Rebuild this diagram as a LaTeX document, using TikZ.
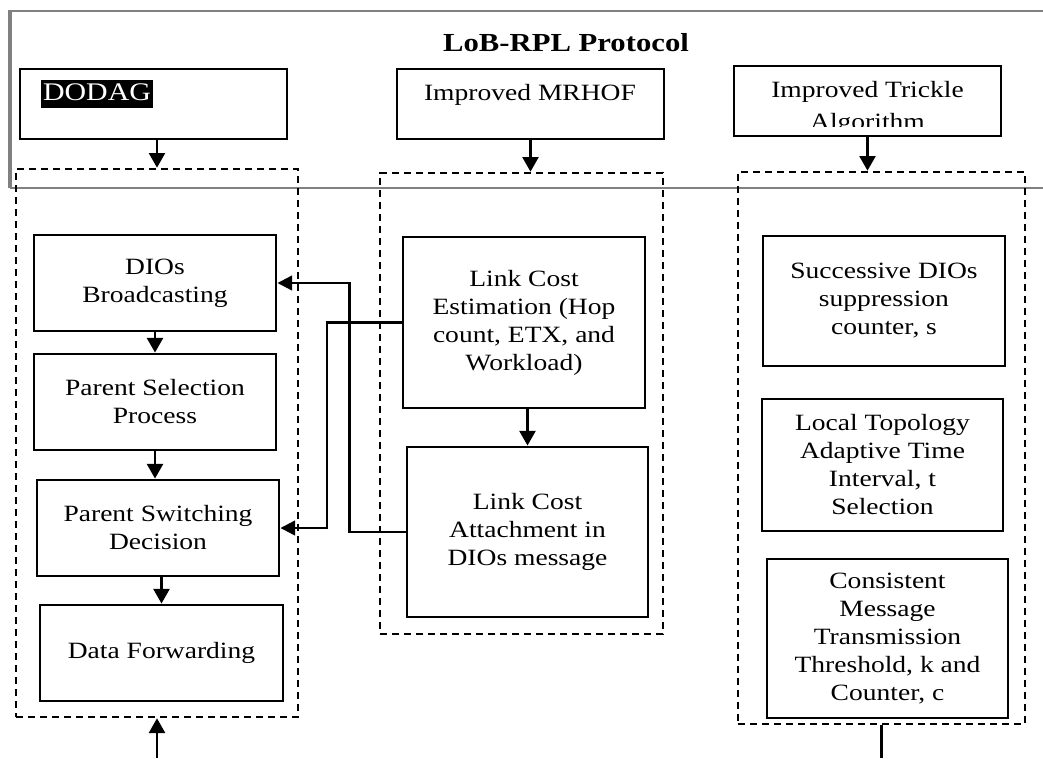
\documentclass[tikz,border=0pt]{standalone}
\usepackage		 {fontspec}
\setmainfont[FakeStretch=1.18]{Liberation Serif}
\usepackage		 {tikz	  }
\usetikzlibrary{shapes,calc,positioning,arrows.meta}

\begin{document}
\begin{tikzpicture}[x=0.75pt,y=-0.75pt]
  \tikzset{ bx/.style={draw,line width=2.2pt,align=center,inner sep=0pt,font=\fontsize{17.5}{21}\selectfont},
    grp/.style={draw,line width=2pt,dash pattern=on 5.5pt off 3.5pt,inner sep=0pt},
    lbl/.style={align=center,inner sep=0pt,font=\fontsize{17.5}{21}\selectfont},
    arr/.style={line width=1.8pt,-{Triangle[width=12pt,length=11pt]}},
    lnk/.style={line width=1.7pt,-{Triangle[width=11pt,length=11pt]}},
  }
  \useasboundingbox (0,0) rectangle (1043,758);
  % frame of the protocol
  \draw[gray,line width=1pt] (9,188) -- (9,11) -- (1050,11);
  \draw[gray,line width=1pt] (11,11) -- (11,188) -- (1050,188);
  \node[lbl,font=\fontsize{19.5}{23}\selectfont\bfseries] (title) at (566,43) {LoB-RPL Protocol};

  \node[bx,minimum width=200.25pt,minimum height=52.5pt] (dodag) at (153.5,104) {};
  \node[bx,minimum width=200.25pt,minimum height=52.5pt] (mrhof) at (530.5,104) {};
  \node[bx,minimum width=200.25pt,minimum height=52.5pt] (trickle) at (867.5,101) {};
  \node[lbl,fill=black,text=white,font=\fontsize{19}{21}\selectfont,text height=15.6pt,text depth=5.2pt,inner xsep=1.5pt] (dodagt) at (97,94) {DODAG};
  \node[lbl,anchor=base] (mrhoft) at (530,100) {Improved MRHOF};
  \begin{scope}
    \clip (734,66) rectangle (1001,126);
    \node[lbl,font=\fontsize{17.5}{24}\selectfont] (tricklet) at (867.5,107.5) {Improved Trickle\\Algorithm};
  \end{scope}

  % dashed groups
  \node[grp,minimum width=211.5pt,minimum height=411pt] (lgrp) at (157,443) {};
  \node[grp,minimum width=212.25pt,minimum height=345.75pt] (mgrp) at (521.5,403.5) {};
  \node[grp,minimum width=215.25pt,minimum height=414pt] (rgrp) at (881.5,448) {};

  \node[bx,minimum width=181.5pt,minimum height=72pt] (dio) at (155,283) {DIOs\\Broadcasting};
  \node[bx,minimum width=181.5pt,minimum height=72pt] (psp) at (155,402) {Parent Selection\\Process};
  \node[bx,minimum width=181.5pt,minimum height=72pt] (psd) at (158,528) {Parent Switching\\Decision};
  \node[bx,minimum width=182.25pt,minimum height=72pt] (dfw) at (161.5,653) {Data Forwarding};

  \node[bx,minimum width=181.5pt,minimum height=128.25pt] (lce) at (524,322.5) {Link Cost\\Estimation (Hop\\count, ETX, and\\Workload)};
  \node[bx,minimum width=180.75pt,minimum height=127.5pt] (lca) at (527.5,532) {Link Cost\\Attachment in\\DIOs message};

  \node[bx,minimum width=181.5pt,minimum height=97.5pt] (sdc) at (884,301) {Successive DIOs\\suppression\\counter, s};
  \node[bx,minimum width=180.75pt,minimum height=99pt] (lta) at (882.5,465) {Local Topology\\Adaptive Time\\Interval, t\\Selection};
  \node[bx,minimum width=180.75pt,minimum height=119.25pt] (cmt) at (887.5,638.5) {Consistent\\Message\\Transmission\\Threshold, k and\\Counter, c};

  \coordinate (src) at (157,758);
  \coordinate (snk) at (881.5,758);

  \draw[arr] (dodag.south -| lgrp.north) -- (lgrp.north);
  \draw[arr] (mrhof.south) -- (mrhof.south |- mgrp.north);
  \draw[arr] (trickle.south) -- (trickle.south |- rgrp.north);
  \draw[arr] (dio) -- (psp);
  \draw[arr] (psp.south) -- (psp.south |- psd.north);
  \draw[arr] (dfw.north |- psd.south) -- (dfw.north);
  \draw[arr] (lca.north |- lce.south) -- (lca.north);
  \draw[lnk] (lce.west) -| ([xshift=35pt]psd.east) -- (psd.east);
  \draw[lnk] (lca.west) -| ([xshift=54pt]dio.east) -- (dio.east);
  \draw[arr] (src) -- (lgrp.south);
  \draw[line width=1.8pt] (rgrp.south) -- (snk);
\end{tikzpicture}
\end{document}
